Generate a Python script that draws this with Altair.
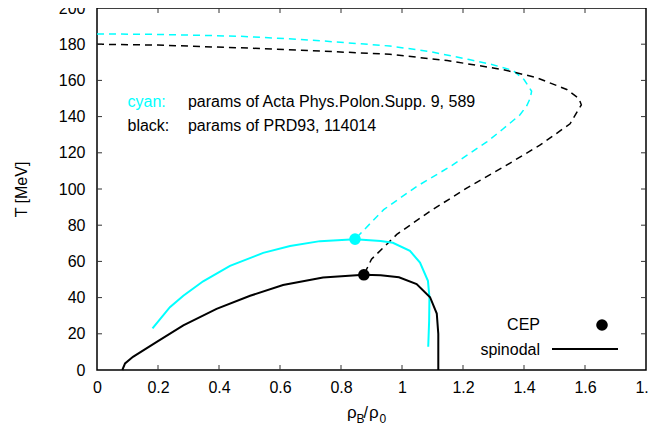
import altair as alt
import pandas as pd

FONT = "Liberation Sans"

# first-order / boundary curves (dashed)
cyan_dash_x = [0.0, 0.2, 0.47, 0.7, 0.96, 1.09, 1.22, 1.29, 1.364, 1.40, 1.425, 1.42, 1.409, 1.387, 1.33, 1.278, 1.157, 1.048, 0.94, 0.846]
cyan_dash_T = [185.7, 185.4, 184.4, 182.3, 179.0, 176.0, 171.5, 169.0, 165.5, 160.5, 154.0, 150.0, 146.0, 141.0, 133.0, 126.0, 112.3, 101.4, 88.6, 72.3]
black_dash_x = [0.0, 0.2, 0.469, 0.7, 0.96, 1.148, 1.33, 1.44, 1.54, 1.58, 1.588, 1.577, 1.551, 1.452, 1.343, 1.212, 1.092, 0.983, 0.9, 0.875]
black_dash_T = [180.0, 179.5, 178.0, 176.5, 174.4, 171.0, 166.0, 161.6, 155.0, 150.0, 146.5, 143.5, 136.0, 124.2, 113.2, 100.5, 87.7, 74.9, 61.2, 52.6]

# spinodal curves (solid)
cyan_spin_x = [0.182, 0.239, 0.283, 0.348, 0.436, 0.545, 0.633, 0.731, 0.846, 0.93, 0.97, 1.026, 1.059, 1.085, 1.09, 1.089, 1.086]
cyan_spin_T = [23.0, 34.7, 41.0, 49.0, 57.5, 64.7, 68.5, 71.2, 72.3, 71.3, 70.3, 65.8, 59.4, 49.3, 40.2, 27.4, 12.8]
black_spin_x = [0.083, 0.092, 0.118, 0.196, 0.283, 0.392, 0.502, 0.61, 0.741, 0.875, 0.93, 0.99, 1.048, 1.092, 1.114, 1.119, 1.119]
black_spin_T = [0.0, 3.6, 7.3, 15.5, 24.7, 33.8, 41.0, 47.0, 51.1, 52.6, 52.3, 51.2, 47.5, 40.2, 31.2, 20.0, 0.0]

# critical end points
cep_series = ["cyan", "black"]
cep_x = [0.846, 0.875]
cep_T = [72.3, 52.6]

x_ticks = [0, 0.2, 0.4, 0.6, 0.8, 1.0, 1.2, 1.4, 1.6, 1.8]
y_ticks = [0, 20, 40, 60, 80, 100, 120, 140, 160, 180, 200]
x_inner = x_ticks[1:-1]
y_inner = y_ticks[1:-1]

note_series = ["cyan", "black"]
note_label = ["cyan:", "black:"]
note_text = ["params of Acta Phys.Polon.Supp. 9, 589", "params of PRD93, 114014"]
note_T = [148, 134.8]
note_x_label = [0.1, 0.1]
note_x_text = [0.298, 0.298]

W, H = 549, 362
XMIN, XMAX, YMIN, YMAX = 0, 1.8, 0, 200
TICK_PX = 5
tick_dx = TICK_PX * (XMAX - XMIN) / W
tick_dy = TICK_PX * (YMAX - YMIN) / H


def curve(xs, ts, s):
    return pd.DataFrame({"x": xs, "T": ts, "series": s, "i": list(range(len(xs)))})


dash_df = pd.concat([curve(cyan_dash_x, cyan_dash_T, "cyan"), curve(black_dash_x, black_dash_T, "black")])
spin_df = pd.concat([curve(cyan_spin_x, cyan_spin_T, "cyan"), curve(black_spin_x, black_spin_T, "black")])
cep_df = pd.DataFrame({"x": cep_x, "T": cep_T, "series": cep_series})

color = alt.Color("series:N", scale=alt.Scale(domain=["cyan", "black"], range=["#00ffff", "#000000"]), legend=None)

xscale = alt.Scale(domain=[XMIN, XMAX], nice=False, zero=False)
yscale = alt.Scale(domain=[YMIN, YMAX], nice=False, zero=False)
xaxis = alt.Axis(values=x_ticks, format="~g", ticks=False, domain=False, grid=False,
                 labelPadding=9, labelFlush=False, labelOverlap=False, title=None)
yaxis = alt.Axis(values=y_ticks, format="d", ticks=False, domain=False, grid=False,
                 labelPadding=12, labelFlush=False, labelOverlap=False, title="T [MeV]", titlePadding=29)
X = alt.X("x:Q", scale=xscale, axis=xaxis)
Y = alt.Y("T:Q", scale=yscale, axis=yaxis)

dashed = alt.Chart(dash_df).mark_line(strokeDash=[7, 5], strokeWidth=1.5).encode(
    x=X, y=Y, color=color, order="i:Q")
solid = alt.Chart(spin_df).mark_line(strokeWidth=2).encode(
    x=X, y=Y, color=color, order="i:Q")
ceps = alt.Chart(cep_df).mark_circle(size=135, opacity=1).encode(x=X, y=Y, color=color)

# inward ticks on all four sides (lengths converted to data units)
xb = pd.DataFrame({"x": x_inner, "T": YMIN, "T2": YMIN + tick_dy})
xtp = pd.DataFrame({"x": x_inner, "T": YMAX, "T2": YMAX - tick_dy})
yl = pd.DataFrame({"T": y_inner, "x": XMIN, "x2": XMIN + tick_dx})
yr = pd.DataFrame({"T": y_inner, "x": XMAX, "x2": XMAX - tick_dx})
tick_b = alt.Chart(xb).mark_rule(color="#333", strokeWidth=1).encode(x=X, y=Y, y2="T2:Q")
tick_t = alt.Chart(xtp).mark_rule(color="#333", strokeWidth=1).encode(x=X, y=Y, y2="T2:Q")
tick_l = alt.Chart(yl).mark_rule(color="#333", strokeWidth=1).encode(y=Y, x=X, x2="x2:Q")
tick_r = alt.Chart(yr).mark_rule(color="#333", strokeWidth=1).encode(y=Y, x=X, x2="x2:Q")

# annotations
lab_df = pd.DataFrame({"series": note_series, "txt": note_label, "T": note_T, "x": note_x_label})
txt_df = pd.DataFrame({"series": note_series, "txt": note_text, "T": note_T, "x": note_x_text})
note_lab = alt.Chart(lab_df).mark_text(align="left", baseline="middle", fontSize=16, font=FONT).encode(
    x=X, y=Y, text="txt:N", color=color)
note_txt = alt.Chart(txt_df).mark_text(align="left", baseline="middle", fontSize=16, font=FONT, color="black").encode(
    x=X, y=Y, text="txt:N")

# key (bottom right)
key_df = pd.DataFrame({"t": ["CEP", "spinodal"], "yy": [317, 342]})
key_txt = alt.Chart(key_df).mark_text(align="right", baseline="middle", fontSize=16, font=FONT, color="black").encode(
    text="t:N", x=alt.value(443), y=alt.Y("yy:Q", scale=None))
key_dot = alt.Chart(pd.DataFrame({"k": ["CEP"]})).mark_circle(size=135, opacity=1, color="black").encode(
    x=alt.value(505), y=alt.value(317))
key_line = alt.Chart(pd.DataFrame({"k": ["spinodal"]})).mark_rule(strokeWidth=2, color="black").encode(
    x=alt.value(455), x2=alt.value(521), y=alt.value(341))

# x-axis title with subscripts: rho_B / rho_0
xt_parts = pd.DataFrame({
    "t": ["ρ", "B", "/", "ρ", "0"],
    "px": [250, 259.5, 266.5, 272, 282.5],
    "py": [405, 411, 405, 405, 411],
    "fs": [17, 12, 16, 17, 12],
})
xtitle = alt.Chart(xt_parts).mark_text(align="left", baseline="middle", font=FONT, color="black").encode(
    text="t:N", x=alt.X("px:Q", scale=None), y=alt.Y("py:Q", scale=None),
    size=alt.Size("fs:Q", scale=None, legend=None))

chart = alt.layer(
    dashed, solid, ceps, tick_b, tick_t, tick_l, tick_r, note_lab, note_txt,
    key_txt, key_dot, key_line, xtitle
).properties(
    width=W, height=H,
    autosize=alt.AutoSizeParams(type="none"),
    padding={"left": 89, "top": 0, "right": 3, "bottom": 56},
).configure_view(stroke="black", strokeWidth=1.5
).configure_axis(labelFontSize=16, labelFont=FONT, labelColor="#000", titleFontSize=16,
                 titleFont=FONT, titleFontWeight="normal", titleColor="#000", labelOverlap=False)

chart.save("out.html", embed_options={"renderer": "svg", "actions": False})
